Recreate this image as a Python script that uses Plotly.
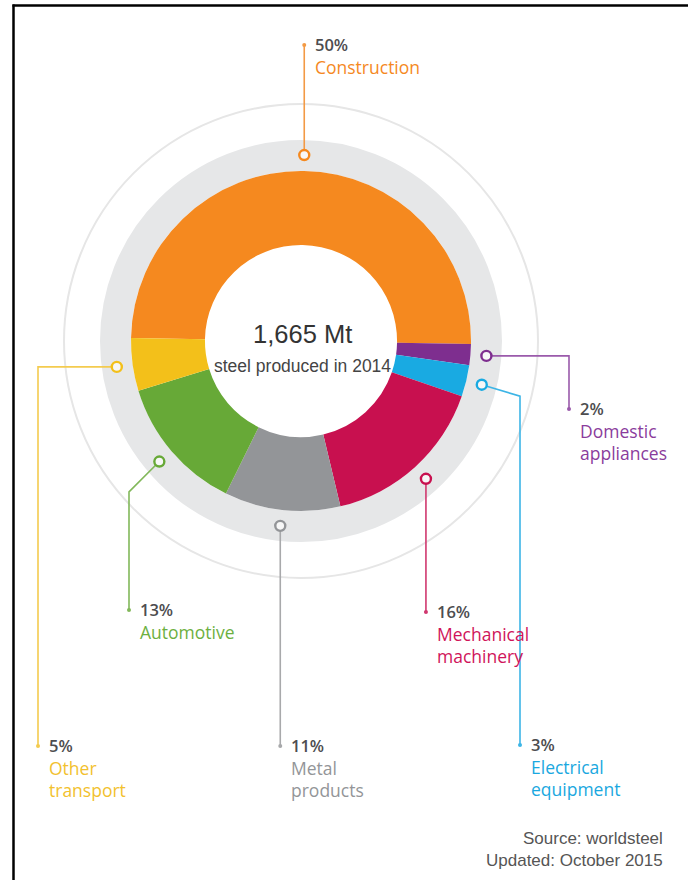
import math
import plotly.graph_objects as go

# ---------------- data ----------------
categories = ["Construction", "Domestic appliances", "Electrical equipment",
              "Mechanical machinery", "Metal products", "Automotive", "Other transport"]
shares = [50, 2, 3, 16, 11, 13, 5]
label_lines = [["Construction"], ["Domestic", "appliances"], ["Electrical", "equipment"],
               ["Mechanical", "machinery"], ["Metal", "products"], ["Automotive"],
               ["Other", "transport"]]
center_value = "1,665 Mt"
center_caption = "steel produced in 2014"
source_lines = ["Source: worldsteel", "Updated: October 2015"]

# ---------------- styling / layout ----------------
slice_colors = ["#F5891F", "#7E2E8F", "#19AAE2", "#C8104F", "#939598", "#67A937", "#F3C01A"]
text_colors = ["#F5891F", "#8A3C9C", "#1AA8E0", "#D0145A", "#939598", "#6DB03F", "#F2C12E"]
line_colors = ["#F39A45", "#9A5AAB", "#3DB5E6", "#D0386F", "#A8A9AB", "#82B85A", "#F4CB4F"]

W, H = 688, 880
CX, CY = 301, 341          # pie centre (px)
R = 170                    # pie outer radius (px)
HOLE = 0.565
RING_IN, RING_OUT = 170, 201
THIN_R = 237
CALLOUT_R = 186
ROTATION = -89
LABEL_FONT = "Open Sans"
CENTER_FONT = "Liberation Sans, Arial, sans-serif"

# per category: (column x or None = straight from callout, end y, slope of first segment)
leaders = [
    (None, 45, 0.0),
    (569, 409, 0.0),
    (520, 745, 0.3),
    (None, 612, 0.0),
    (None, 746, 0.0),
    (129, 610, 1.0),
    (38, 746, 0.0),
]

fig = go.Figure()

# pie (donut)
fig.add_trace(go.Pie(
    labels=categories, values=shares, sort=False, direction="clockwise",
    rotation=ROTATION, hole=HOLE, textinfo="none", showlegend=False,
    marker=dict(colors=slice_colors, line=dict(width=0)),
    domain=dict(x=[(CX - R) / W, (CX + R) / W],
                y=[(H - CY - R) / H, (H - CY + R) / H]),
    hovertemplate="%{label}: %{value}%<extra></extra>",
))

total = sum(shares)
cum = 0
annotations = []
for i, (cat, v) in enumerate(zip(categories, shares)):
    mid = math.radians(ROTATION + 360 * (cum + v / 2) / total)
    cum += v
    px = CX + CALLOUT_R * math.sin(mid)
    py = CY - CALLOUT_R * math.cos(mid)
    colx, endy, slope = leaders[i]
    if colx is None:
        colx = px
        xs, ys = [px, px], [py, endy]
    else:
        by = py + slope * abs(colx - px)
        xs, ys = [px, colx, colx], [py, by, endy]
    # leader line
    fig.add_trace(go.Scatter(x=xs, y=ys, mode="lines", hoverinfo="skip", showlegend=False,
                             line=dict(color=line_colors[i], width=1.6)))
    # end dot
    fig.add_trace(go.Scatter(x=[colx], y=[endy], mode="markers", hoverinfo="skip",
                             showlegend=False,
                             marker=dict(size=4, color=line_colors[i])))
    # callout ring
    fig.add_trace(go.Scatter(x=[px], y=[py], mode="markers", hoverinfo="skip",
                             showlegend=False,
                             marker=dict(size=10, color="#F7F7F7",
                                         line=dict(color=slice_colors[i], width=2.4))))
    tx = colx + 9
    annotations.append(dict(x=tx, y=endy - 1, text=f"{v}%", showarrow=False,
                            xanchor="left", yanchor="middle",
                            font=dict(family=LABEL_FONT, size=16.5, color="#4D4D4F",
                                      weight=600)))
    for j, ln in enumerate(label_lines[i]):
        annotations.append(dict(x=tx, y=endy + 22 + 21.5 * j, text=ln, showarrow=False,
                                xanchor="left", yanchor="middle",
                                font=dict(family=LABEL_FONT, size=17.5,
                                          color=text_colors[i])))

# centre text
annotations.append(dict(x=CX + 1, y=334, text=center_value, showarrow=False,
                        xanchor="center", yanchor="middle",
                        font=dict(family=CENTER_FONT, size=25.5, color="#333333")))
annotations.append(dict(x=CX + 1, y=366, text=center_caption, showarrow=False,
                        xanchor="center", yanchor="middle",
                        font=dict(family=CENTER_FONT, size=17.5, color="#444444")))
# source
for j, s in enumerate(source_lines):
    annotations.append(dict(x=665, y=838 + 22 * j, text=s, showarrow=False,
                            xanchor="right", yanchor="middle",
                            font=dict(family=CENTER_FONT, size=17, color="#555555")))

shapes = [
    # gray band around the donut
    dict(type="circle", xref="x", yref="y", layer="below",
         x0=CX - (RING_IN + RING_OUT) / 2, x1=CX + (RING_IN + RING_OUT) / 2,
         y0=CY - (RING_IN + RING_OUT) / 2, y1=CY + (RING_IN + RING_OUT) / 2,
         line=dict(color="#E6E7E8", width=RING_OUT - RING_IN)),
    # thin outer circle
    dict(type="circle", xref="x", yref="y", layer="below",
         x0=CX - THIN_R, x1=CX + THIN_R, y0=CY - THIN_R, y1=CY + THIN_R,
         line=dict(color="#E6E6E6", width=2)),
    # frame
    dict(type="line", xref="x", yref="y", x0=13.5, x1=13.5, y0=4.5, y1=H,
         line=dict(color="#000000", width=2.5)),
    dict(type="line", xref="x", yref="y", x0=12.5, x1=W, y0=5.5, y1=5.5,
         line=dict(color="#000000", width=2.5)),
]

fig.update_layout(
    width=W, height=H, margin=dict(l=0, r=0, t=0, b=0),
    paper_bgcolor="white", plot_bgcolor="white",
    xaxis=dict(range=[0, W], visible=False, fixedrange=True, domain=[0, 1]),
    yaxis=dict(range=[H, 0], visible=False, fixedrange=True, domain=[0, 1]),
    shapes=shapes, annotations=annotations, showlegend=False,
)

fig.write_html("out.html")
